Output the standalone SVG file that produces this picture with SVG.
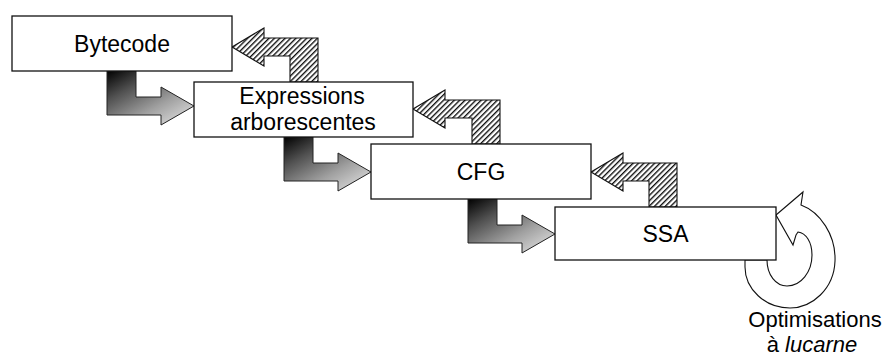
<svg xmlns="http://www.w3.org/2000/svg" width="887" height="358" viewBox="0 0 887 358">
  <style>
    .box { fill: #ffffff; stroke: #111111; stroke-width: 1.3; }
    .label { font-family: "Liberation Sans", Arial, sans-serif; font-size: 23px; fill: #000000; text-anchor: middle; }
    .note { font-size: 22px; }
    .fwd { fill: url(#fwdShade); stroke: #222222; stroke-width: 1; stroke-linejoin: miter; }
    .back { fill: url(#hatch); stroke: #111111; stroke-width: 1.1; stroke-linejoin: miter; }
    .loop { fill: #ffffff; stroke: #111111; stroke-width: 1.1; }
  </style>
  <defs>
    <!-- dark-to-light shading of the forward (lowering) arrows -->
    <linearGradient id="fwdShade" x1="0" y1="0" x2="0.9" y2="1">
      <stop offset="0" stop-color="#000000"/>
      <stop offset="0.3" stop-color="#505050"/>
      <stop offset="0.65" stop-color="#a0a0a0"/>
      <stop offset="1" stop-color="#e2e2e2"/>
    </linearGradient>
    <!-- diagonal hatching of the return arrows -->
    <pattern id="hatch" patternUnits="userSpaceOnUse" width="3.8" height="3.8" patternTransform="rotate(45)">
      <rect width="3.8" height="3.8" fill="#ffffff"/>
      <line x1="0.7" y1="0" x2="0.7" y2="3.8" stroke="#000000" stroke-width="1.3"/>
    </pattern>
  </defs>

  <rect width="887" height="358" fill="#ffffff"/>

  <g id="connectors">
    <!-- forward arrows: bottom of one stage to the left side of the next -->
    <path class="fwd" d="M107,71 L136,71 L136,97 L161,97 L161,87 L194,106 L161,125 L161,115 L107,115 Z"/>
    <path class="fwd" d="M284,137 L313,137 L313,163 L338,163 L338,153 L371,172 L338,191 L338,181 L284,181 Z"/>
    <path class="fwd" d="M468,199 L497,199 L497,225 L522,225 L522,215 L555,234 L522,253 L522,243 L468,243 Z"/>

    <!-- return arrows: top of a stage back to the right side of the previous one -->
    <path class="back" d="M232,47 L264,28 L264,38 L318,38 L318,82 L290,82 L290,56 L264,56 L264,66 Z"/>
    <path class="back" d="M413,109 L445,90 L445,100 L500,100 L500,144 L472,144 L472,118 L445,118 L445,128 Z"/>
    <path class="back" d="M591,172 L623,153 L623,163 L677,163 L677,207 L649,207 L649,181 L623,181 L623,191 Z"/>

    <!-- self loop on SSA -->
    <path class="loop" d="M776,215 L803,192 L801,205 C820,212 836,235 835,261 C834,289 812,308 790,308 C765,308 745,289 745,267 L745,260 L767,260 C767,275 776,286 787,286 C801,286 812,272 812,255 C812,242 806,233 798,232 L796,235 L793,245 Z"/>
  </g>

  <g id="bytecode">
    <rect class="box" x="12" y="16" width="220" height="55"/>
    <text class="label" x="122" y="52">Bytecode</text>
  </g>

  <g id="expressions">
    <rect class="box" x="194" y="82" width="219" height="55"/>
    <text class="label" x="302" y="104">Expressions</text>
    <text class="label" x="303" y="130">arborescentes</text>
  </g>

  <g id="cfg">
    <rect class="box" x="371" y="144" width="220" height="55"/>
    <text class="label" x="481" y="180">CFG</text>
  </g>

  <g id="ssa">
    <rect class="box" x="555" y="207" width="221" height="53"/>
    <text class="label" x="665.5" y="242">SSA</text>
  </g>

  <g id="peephole">
    <text class="label note" x="815" y="326.5">Optimisations</text>
    <text class="label note" x="812" y="351.5">à <tspan font-style="italic">lucarne</tspan></text>
  </g>
</svg>
